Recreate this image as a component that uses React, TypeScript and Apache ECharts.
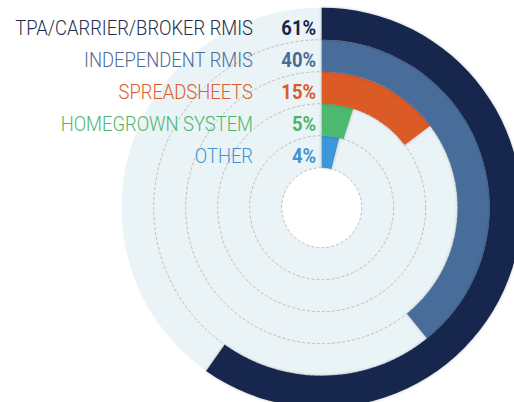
import React, { useEffect, useRef } from "react";
import * as echarts from "echarts";

const categories = ["OTHER", "HOMEGROWN SYSTEM", "SPREADSHEETS", "INDEPENDENT RMIS", "TPA/CARRIER/BROKER RMIS"];
const values = [4, 5, 15, 40, 61];
const barColors = ["#3B97D7", "#4DB86F", "#DC5A27", "#4A6D9B", "#14274D"];
const labelColors = ["#3F94D2", "#4DB66C", "#DD5C29", "#4E6C99", "#222E4C"];
const pctColors = ["#3E93D1", "#4BB36A", "#DB5A28", "#4A6A98", "#18254A"];

const CX = 321.7;
const CY = 207.7;
const R0 = 40;
const R1 = 200;
const BG = "#EAF3F6";

export default function App() {
  const ref = useRef<HTMLDivElement>(null);
  useEffect(() => {
    const chart = echarts.init(ref.current!, null, { renderer: "svg" });
    const band = (R1 - R0) / categories.length;
    const font = "Roboto, sans-serif";
    const SX = 0.875;
    const texts: any[] = [
      {
        type: "ring",
        z: -10,
        shape: { cx: CX, cy: CY, r: R1, r0: R0 },
        style: { fill: BG },
        silent: true,
      },
    ];
    categories.forEach((c, i) => {
      const y = CY - (R0 + band * (i + 0.5)) + 4;
      texts.push({
        type: "text",
        z: 100,
        x: 253,
        y,
        scaleX: SX,
        style: { text: c, fill: labelColors[i], font: `300 21px ${font}`, textAlign: "right", textVerticalAlign: "middle" },
      });
      texts.push({
        type: "text",
        z: 100,
        x: 316,
        y,
        scaleX: SX,
        style: { text: values[i] + "%", fill: pctColors[i], font: `bold 21px ${font}`, textAlign: "right", textVerticalAlign: "middle" },
      });
    });
    const lineColors = categories.map(() => "#a8a8a8").concat([BG]);
    chart.setOption({
      animation: false,
      polar: { center: [CX, CY], radius: [R0, R1] },
      angleAxis: {
        type: "value",
        min: 0,
        max: 102,
        startAngle: 90,
        clockwise: true,
        show: false,
      },
      radiusAxis: {
        type: "category",
        data: categories,
        axisLine: { show: false },
        axisTick: { show: false, interval: 0 },
        axisLabel: { show: false, interval: 0 },
        splitLine: {
          show: true,
          interval: 0,
          lineStyle: { color: lineColors, width: 0.7, type: [3, 2] },
        },
      },
      series: [
        {
          type: "bar",
          coordinateSystem: "polar",
          barCategoryGap: "0%",
          data: values.map((v, i) => ({ value: v, itemStyle: { color: barColors[i] } })),
          itemStyle: { shadowBlur: 3, shadowColor: "rgba(0,0,0,0.25)" },
        },
      ],
      graphic: texts,
    });
    return () => chart.dispose();
  }, []);
  return <div ref={ref} style={{ position: "fixed", left: 0, top: 0, width: 514, height: 402, background: "#fff" }} />;
}
